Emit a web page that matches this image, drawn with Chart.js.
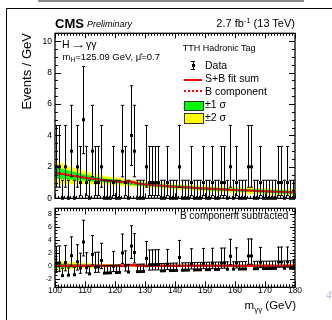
<!DOCTYPE html>
<html>
<head>
<meta charset="utf-8">
<script src="https://cdn.jsdelivr.net/npm/chart.js"></script>
<style>
html,body{margin:0;padding:0;background:#fff;}
#wrap{position:relative;width:332px;height:320px;overflow:hidden;background:#fff;font-family:"Liberation Sans",Arial,Helvetica,sans-serif;color:#000;}
canvas{position:absolute;left:0;top:0;}
.t{position:absolute;white-space:nowrap;line-height:1;}
.b{position:absolute;}
</style>
</head>
<body>
<div id="wrap">
  <div class="b" style="left:38px;top:-10px;width:262px;height:8px;border:2px solid #888;"></div>
  <div class="b" style="left:6px;top:8px;width:340px;height:330px;border-left:1px solid #000;border-top:1px solid #000;"></div>
  <canvas id="cTop" width="332" height="320" style="width:332px;height:320px"></canvas>
  <canvas id="cBot" width="332" height="320" style="width:332px;height:320px"></canvas>

  <div class="t" style="left:55px;top:16.5px;font-size:13px;font-weight:bold;">CMS</div>
  <div class="t" style="left:87px;top:19.9px;font-size:9px;font-style:italic;">Preliminary</div>
  <div class="t" style="right:37px;top:18.2px;font-size:11px;">2.7 fb<span style="font-size:7.5px;position:relative;top:-4px;">-1</span> (13 TeV)</div>
  <div class="t" style="left:20px;top:133px;width:100px;text-align:right;font-size:13px;transform:rotate(-90deg);transform-origin:0 0;">Events / GeV</div>

  <div class="t" style="left:62px;top:38.6px;font-size:10.5px;">H<span style="display:inline-block;transform:scaleX(1.5);margin:0 3px;">→</span>γγ</div>
  <div class="t" style="left:62.5px;top:52px;font-size:9.5px;">m<span style="font-size:6.5px;position:relative;top:2px;">H</span>=125.09 GeV, μ̂=0.7</div>
  <div class="t" style="left:182.7px;top:43.9px;font-size:9px;">TTH Hadronic Tag</div>

  <!-- legend -->
  <div class="b" style="left:192.5px;top:61px;width:1px;height:8.5px;background:#000;"></div>
  <div class="b" style="left:191px;top:61px;width:4px;height:1px;background:#000;"></div>
  <div class="b" style="left:191px;top:69px;width:4px;height:1px;background:#000;"></div>
  <div class="b" style="left:191.5px;top:63.7px;width:3px;height:3px;background:#000;"></div>
  <div class="b" style="left:184px;top:78.5px;width:18px;height:2px;background:#ff0000;"></div>
  <div class="b" style="left:184px;top:89.5px;width:18px;height:0;border-top:2px dotted #ff0000;"></div>
  <div class="b" style="left:183.5px;top:100.5px;width:18px;height:8.5px;background:#00ff00;border:1px solid #333;"></div>
  <div class="b" style="left:183.5px;top:113.3px;width:18px;height:8.5px;background:#ffff00;border:1px solid #333;"></div>
  <div class="t" style="left:205px;top:60.1px;font-size:10.5px;">Data</div>
  <div class="t" style="left:205px;top:73.3px;font-size:10.5px;">S+B fit sum</div>
  <div class="t" style="left:205px;top:86.3px;font-size:10.5px;">B component</div>
  <div class="t" style="left:205px;top:99.1px;font-size:10.5px;">±1 σ</div>
  <div class="t" style="left:205px;top:112.1px;font-size:10.5px;">±2 σ</div>

  <div class="t" style="right:43.7px;top:210.5px;font-size:10px;">B component subtracted</div>
  <div class="t" style="right:36px;top:300.3px;font-size:11.5px;">m<span style="font-size:8px;position:relative;top:3px;">γγ</span> (GeV)</div>
  <div class="t" style="left:326px;top:291px;font-size:10px;font-style:italic;color:#b8b8e8;">4</div>
</div>

<script>
// ---------- data ----------
const massBins = [100.5,101.5,102.5,103.5,104.5,105.5,106.5,107.5,108.5,109.5,
  110.5,111.5,112.5,113.5,114.5,115.5,116.5,117.5,118.5,119.5,
  120.5,121.5,122.5,123.5,124.5,125.5,126.5,127.5,128.5,129.5,
  130.5,131.5,132.5,133.5,134.5,135.5,136.5,137.5,138.5,139.5,
  140.5,141.5,142.5,143.5,144.5,145.5,146.5,147.5,148.5,149.5,
  150.5,151.5,152.5,153.5,154.5,155.5,156.5,157.5,158.5,159.5,
  160.5,161.5,162.5,163.5,164.5,165.5,166.5,167.5,168.5,169.5,
  170.5,171.5,172.5,173.5,174.5,175.5,176.5,177.5,178.5,179.5];
const eventCounts = [2,2,0,2,0,3,0,2,1,5,
  1,0,3,1,1,2,0,0,0,1,
  0,0,3,1,0,4,3,0,0,0,
  2,1,1,1,1,0,0,1,0,0,
  0,2,0,0,0,1,0,0,0,1,
  0,0,1,0,0,1,1,0,2,0,
  1,0,0,0,2,2,0,0,1,0,
  0,0,0,0,1,1,0,1,0,0];
// error bar ends per observed count (0..5)
const errLow  = [0, 0.173, 0.708, 1.367, 2.086, 2.840];
const errHigh = [1.148, 3.300, 4.638, 5.918, 7.163, 8.382];

const fitMass = [100,105,110,115,120,125,130,135,140,145,150,155,160,165,170,175,180];
const bkgFit  = [1.63,1.46,1.31,1.18,1.07,0.97,0.88,0.81,0.74,0.68,0.62,0.57,0.53,0.49,0.45,0.41,0.38];
const sigma1  = [0.37,0.27,0.20,0.15,0.12,0.10,0.095,0.09,0.09,0.09,0.09,0.09,0.09,0.095,0.10,0.105,0.11];
const sigma2  = [0.78,0.56,0.41,0.31,0.25,0.21,0.19,0.18,0.18,0.18,0.18,0.185,0.19,0.20,0.21,0.22,0.23];

const sbMass = [100,105,110,115,120,122,123,124,125,126,127,128,130,135,140,145,150,155,160,165,170,175,180];
const sbFit  = [1.63,1.46,1.31,1.18,1.07,1.04,1.05,1.08,1.09,1.04,0.97,0.92,0.88,0.81,0.74,0.68,0.62,0.57,0.53,0.49,0.45,0.41,0.38];

const sigMass = [100,120,122,123,124,125,126,127,128,130,180];
const sigFit  = [0,0,0.01,0.04,0.09,0.12,0.09,0.04,0.01,0,0];

const xTickLabels = [100,110,120,130,140,150,160,170,180];
const yTicksTop = [0,2,4,6,8,10];
const yTicksBot = [-2,0,2,4,6,8];

// ---------- helpers ----------
function bkgAt(m){
  for (let i=0;i<fitMass.length-1;i++){
    if (m>=fitMass[i] && m<=fitMass[i+1]){
      const f=(m-fitMass[i])/(fitMass[i+1]-fitMass[i]);
      return bkgFit[i]+f*(bkgFit[i+1]-bkgFit[i]);
    }
  }
  return bkgFit[bkgFit.length-1];
}
const FONT = 'Liberation Sans';

const rootAxes = {
  id:'rootAxes',
  afterDatasetsDraw(chart, args, o){
    const {ctx, chartArea:a, scales:{x,y}} = chart;
    ctx.save();
    ctx.strokeStyle='#000'; ctx.lineWidth=1;
    ctx.beginPath();
    for (let v=o.xFrom; v<=o.xTo+1e-9; v+=o.xMinorStep){
      const major = Math.abs(v/o.xMajorStep - Math.round(v/o.xMajorStep))<1e-6;
      const L = major?o.xMajLen:o.xMinLen;
      const px = Math.round(x.getPixelForValue(v))+0.5;
      ctx.moveTo(px,a.bottom); ctx.lineTo(px,a.bottom-L);
      ctx.moveTo(px,a.top); ctx.lineTo(px,a.top+L);
    }
    for (let v=o.yFrom; v<=o.yTo+1e-9; v+=o.yMinorStep){
      const major = Math.abs(v/o.yMajorStep - Math.round(v/o.yMajorStep))<1e-6;
      const L = major?o.yMajLen:o.yMinLen;
      const py = Math.round(y.getPixelForValue(v))+0.5;
      if (py<a.top-0.5 || py>a.bottom+0.5) continue;
      ctx.moveTo(a.left,py); ctx.lineTo(a.left+L,py);
      ctx.moveTo(a.right,py); ctx.lineTo(a.right-L,py);
    }
    ctx.stroke();
    ctx.lineWidth=1.3;
    ctx.strokeRect(a.left,a.top,a.right-a.left,a.bottom-a.top);
    ctx.restore();
  }
};

function dataSets(offsetFn, bandCenter){
  const pts = massBins.map((m,i)=>({x:m, y:eventCounts[i]-offsetFn(m)}));
  const bars = massBins.map((m,i)=>({x:m, y:[errLow[eventCounts[i]]-offsetFn(m), errHigh[eventCounts[i]]-offsetFn(m)]}));
  const caps = [];
  massBins.forEach((m,i)=>{
    caps.push({x:m, y:errHigh[eventCounts[i]]-offsetFn(m)});
    caps.push({x:m, y:errLow[eventCounts[i]]-offsetFn(m)});
  });
  return [
    {type:'bar', data:bars, backgroundColor:'#000', borderWidth:0, barThickness:1, grouped:false, inflateAmount:0, order:3, clip:false},
    {type:'scatter', data:caps, pointStyle:'line', pointRadius:1.6, borderColor:'#000', borderWidth:1, order:2, clip:false},
    {type:'scatter', data:pts, pointStyle:'rect', pointRadius:2.1, backgroundColor:'#000', borderWidth:0, order:1, clip:false}
  ];
}

function band(center, s, sign){ return fitMass.map((m,i)=>({x:m, y:center[i]+sign*s[i]})); }
const zeroArr = fitMass.map(()=>0);
const lineBase = {type:'line', pointRadius:0, borderWidth:0, cubicInterpolationMode:'monotone'};

// ---------- upper panel ----------
new Chart(document.getElementById('cTop'), {
  type:'line',
  data:{datasets:[
    {...lineBase, data:band(bkgFit,sigma2,-1), fill:false, order:10},
    {...lineBase, data:band(bkgFit,sigma2,1), fill:'-1', backgroundColor:'#ffff00', order:9},
    {...lineBase, data:band(bkgFit,sigma1,-1), fill:false, order:8},
    {...lineBase, data:band(bkgFit,sigma1,1), fill:'-1', backgroundColor:'#00ff00', order:7},
    {...lineBase, data:sbMass.map((m,i)=>({x:m,y:sbFit[i]})), borderColor:'#ff0000', borderWidth:2, fill:false, order:5},
    {...lineBase, data:fitMass.map((m,i)=>({x:m,y:bkgFit[i]})), borderColor:'#ff0000', borderWidth:1.5, borderDash:[2,2], fill:false, order:4},
    ...dataSets(()=>0)
  ]},
  options:{
    responsive:false, animation:false, events:[],
    layout:{padding:{left:0, top:33.3, right:37, bottom:121.7}},
    plugins:{legend:{display:false}, tooltip:{enabled:false},
      rootAxes:{xFrom:100,xTo:180,xMinorStep:1,xMajorStep:10,xMajLen:5,xMinLen:2.5,
                yFrom:0,yTo:10.5,yMinorStep:0.5,yMajorStep:2,yMajLen:6,yMinLen:3}},
    scales:{
      x:{type:'linear', min:100, max:180, display:false, offset:false},
      y:{type:'linear', min:0, max:10.5, position:'left',
         afterBuildTicks:s=>{ s.ticks = yTicksTop.map(v=>({value:v})); },
         afterFit:s=>{ s.width = 55; },
         grid:{display:false, drawTicks:false}, border:{display:false},
         ticks:{padding:3, color:'#000', font:{family:FONT, size:8.5}}}
    }
  },
  plugins:[rootAxes]
});

// ---------- lower panel ----------
new Chart(document.getElementById('cBot'), {
  type:'line',
  data:{datasets:[
    {...lineBase, data:band(zeroArr,sigma2,-1), fill:false, order:10},
    {...lineBase, data:band(zeroArr,sigma2,1), fill:'-1', backgroundColor:'#ffff00', order:9},
    {...lineBase, data:band(zeroArr,sigma1,-1), fill:false, order:8},
    {...lineBase, data:band(zeroArr,sigma1,1), fill:'-1', backgroundColor:'#00ff00', order:7},
    {...lineBase, data:sigMass.map((m,i)=>({x:m,y:sigFit[i]})), borderColor:'#ff0000', borderWidth:2.5, fill:false, order:5},
    {...lineBase, data:fitMass.map((m,i)=>({x:m,y:zeroArr[i]})), borderColor:'#ff0000', borderWidth:1.5, borderDash:[2,2], fill:false, order:4},
    ...dataSets(bkgAt)
  ]},
  options:{
    responsive:false, animation:false, events:[],
    layout:{padding:{left:0, top:208.3, right:37, bottom:20.7}},
    plugins:{legend:{display:false}, tooltip:{enabled:false},
      rootAxes:{xFrom:100,xTo:180,xMinorStep:1,xMajorStep:10,xMajLen:6,xMinLen:3,
                yFrom:-3,yTo:8.5,yMinorStep:0.5,yMajorStep:2,yMajLen:5,yMinLen:2.5}},
    scales:{
      x:{type:'linear', min:100, max:180, position:'bottom', offset:false,
         afterBuildTicks:s=>{ s.ticks = xTickLabels.map(v=>({value:v})); },
         afterFit:s=>{ s.height = 12; },
         grid:{display:false, drawTicks:false}, border:{display:false},
         ticks:{padding:-1, maxRotation:0, autoSkip:false, color:'#000', font:{family:FONT, size:8.5, lineHeight:1}}},
      y:{type:'linear', min:-3.35, max:8.9, position:'left',
         afterBuildTicks:s=>{ s.ticks = yTicksBot.map(v=>({value:v})); },
         afterFit:s=>{ s.width = 55; },
         grid:{display:false, drawTicks:false}, border:{display:false},
         ticks:{padding:3, color:'#000', font:{family:FONT, size:7}}}
    }
  },
  plugins:[rootAxes]
});
</script>
</body>
</html>
